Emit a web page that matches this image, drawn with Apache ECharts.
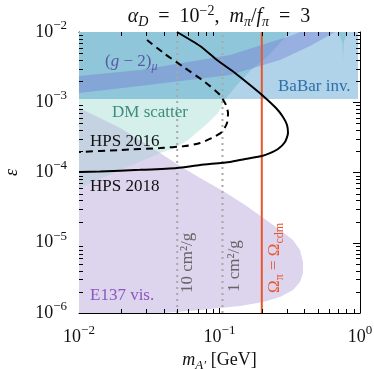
<!DOCTYPE html>
<html>
<head>
<meta charset="utf-8">
<script src="https://cdn.jsdelivr.net/npm/echarts@6/dist/echarts.min.js"></script>
<style>
  html, body { margin: 0; padding: 0; background: #fff; }
  #chart { width: 374px; height: 369px; }
</style>
</head>
<body>
<div id="chart"></div>
<script>
// Axis ranges (dark-photon mass in GeV, kinetic mixing epsilon)
const massRange = [0.01, 1];
const epsRange = [1e-6, 1e-2];

// Minor tick positions on the log axes
const xMinorTicks = [0.02, 0.03, 0.04, 0.05, 0.06, 0.07, 0.08, 0.09,
                     0.2, 0.3, 0.4, 0.5, 0.6, 0.7, 0.8, 0.9];
const yMinorTicks = [2e-6, 3e-6, 4e-6, 5e-6, 6e-6, 7e-6, 8e-6, 9e-6,
                     2e-5, 3e-5, 4e-5, 5e-5, 6e-5, 7e-5, 8e-5, 9e-5,
                     2e-4, 3e-4, 4e-4, 5e-4, 6e-4, 7e-4, 8e-4, 9e-4,
                     2e-3, 3e-3, 4e-3, 5e-3, 6e-3, 7e-3, 8e-3, 9e-3];

// Excluded regions, [m_A' (GeV), epsilon]
const babarInvisible = [[0.01, 1e-2], [0.968, 1e-2], [0.968, 1.11e-3], [0.01, 1.11e-3]];
const dmScatterHigh = [[0.01, 1e-2], [0.318, 1e-2], [0.221, 4.55e-3], [0.165, 2.79e-3],
                       [0.133, 1.76e-3], [0.11, 1.11e-3], [0.01, 1.11e-3]];
const dmScatterSpike = [[0.70, 1e-2], [0.81, 1e-2], [0.765, 7.0e-3], [0.757, 3.74e-3], [0.75, 7.0e-3]];
const dmScatterLow = [[0.01, 1.11e-3], [0.11, 1.11e-3], [0.0976, 7.03e-4], [0.0828, 5.07e-4],
                      [0.0597, 2.90e-4], [0.0482, 2.23e-4], [0.0377, 1.89e-4], [0.01, 6.02e-5]];
const e137Visible = [[0.01, 8.28e-4], [0.0196, 4.30e-4], [0.0377, 1.89e-4], [0.0524, 1.24e-4],
                     [0.0727, 8.35e-5], [0.1059, 5.45e-5], [0.152, 3.45e-5], [0.2007, 2.32e-5],
                     [0.2696, 1.52e-5], [0.3336, 1.09e-5], [0.374, 7.88e-6], [0.393, 5.32e-6],
                     [0.393, 3.71e-6], [0.374, 2.76e-6], [0.3336, 2.13e-6], [0.2696, 1.69e-6],
                     [0.204, 1.43e-6], [0.1399, 1.26e-6], [0.1008, 1.18e-6], [0.0727, 1.10e-6],
                     [0.0498, 1.03e-6], [0.0377, 1e-6], [0.01, 1e-6]];
const e137DmOverlap = [[0.01, 8.28e-4], [0.0196, 4.30e-4], [0.0377, 1.89e-4], [0.01, 6.02e-5]];
const gMinus2Band = [[0.01, 2.36e-3], [0.0272, 2.88e-3], [0.1188, 4.71e-3], [0.3176, 8.77e-3],
                     [0.374, 1e-2], [0.664, 1e-2], [0.4407, 6.32e-3], [0.2696, 3.99e-3],
                     [0.1188, 2.44e-3], [0.0272, 1.70e-3], [0.01, 1.35e-3]];

// Projected HPS reach
const hps2018 = [[0.0498, 1e-2], [0.0727, 6.32e-3], [0.096, 3.99e-3], [0.129, 2.61e-3],
                 [0.1649, 1.76e-3], [0.2007, 1.27e-3], [0.2524, 8.28e-4], [0.2831, 6.17e-4],
                 [0.3023, 4.74e-4], [0.3073, 3.65e-4], [0.2925, 2.72e-4], [0.2609, 2.16e-4],
                 [0.2287, 1.89e-4], [0.2007, 1.72e-4], [0.1519, 1.56e-4], [0.1188, 1.41e-4],
                 [0.0727, 1.28e-4], [0.0498, 1.16e-4], [0.0272, 1.09e-4], [0.0141, 1.03e-4],
                 [0.01, 1.016e-4]];
const hps2016 = [[0.0305, 7.69e-3], [0.0409, 4.86e-3], [0.0568, 3.07e-3], [0.0789, 1.94e-3],
                 [0.1008, 1.27e-3], [0.1112, 9.14e-4], [0.115, 7.03e-4], [0.1131, 5.07e-4],
                 [0.1042, 3.77e-4], [0.0884, 3.10e-4], [0.0727, 2.63e-4], [0.0568, 2.38e-4],
                 [0.0377, 2.23e-4], [0.0196, 2.09e-4], [0.01, 1.96e-4]];

// Self-interaction cross sections (cm^2/g) and relic-abundance mass
const sigma10Mass = 0.05;
const sigma1Mass = 0.105;
const relicMass = 0.2;

const SERIF = "'Liberation Serif','DejaVu Serif',serif";

function region(name, pts, fill, z) {
  return {
    type: 'custom', name: name, data: pts, z: z, silent: true,
    renderItem: function (params, api) {
      if (params.dataIndex !== 0) return;
      return {
        type: 'polygon',
        shape: { points: pts.map(function (p) { return api.coord(p); }) },
        style: { fill: fill }
      };
    }
  };
}

function vline(mass, color, type, width, z) {
  return {
    type: 'line', data: [[mass, epsRange[0]], [mass, epsRange[1]]], z: z,
    showSymbol: false, silent: true,
    lineStyle: { color: color, type: type, width: width }
  };
}

function minorTicks(values, horizontal) {
  return {
    type: 'custom', z: 20, silent: true,
    data: values.map(function (v) { return horizontal ? [v, epsRange[0]] : [massRange[0], v]; }),
    renderItem: function (params, api) {
      const cs = params.coordSys;
      const st = { stroke: '#000', lineWidth: 1 };
      if (horizontal) {
        const x = Math.round(api.coord([api.value(0), epsRange[0]])[0]) + 0.5;
        const b = cs.y + cs.height, t = cs.y;
        return { type: 'group', children: [
          { type: 'line', shape: { x1: x, y1: b, x2: x, y2: b - 4 }, style: st },
          { type: 'line', shape: { x1: x, y1: t, x2: x, y2: t + 4 }, style: st }
        ] };
      }
      const y = Math.round(api.coord([massRange[0], api.value(1)])[1]) + 0.5;
      const l = cs.x, r = cs.x + cs.width;
      return { type: 'group', children: [
        { type: 'line', shape: { x1: l, y1: y, x2: l + 4, y2: y }, style: st },
        { type: 'line', shape: { x1: r, y1: y, x2: r - 4, y2: y }, style: st }
      ] };
    }
  };
}

const tickRich = {
  b: { fontFamily: SERIF, fontSize: 18, lineHeight: 26, color: '#111' },
  s: { fontFamily: SERIF, fontSize: 13, lineHeight: 13, verticalAlign: 'top', color: '#111' }
};
function powerLabel(v) {
  const e = Math.round(Math.log10(v));
  return '{b|10}{s|' + (e < 0 ? '\u2212' + (-e) : e) + '}';
}

function logAxis(range, pos, labels, margin) {
  return {
    type: 'log', logBase: 10, min: range[0], max: range[1], position: pos,
    axisLine: { show: true, lineStyle: { color: '#000', width: 1 } },
    axisTick: { show: true, inside: true, length: 7, lineStyle: { color: '#000', width: 1 } },
    splitLine: { show: false },
    axisLabel: labels ? { show: true, formatter: powerLabel, rich: tickRich, margin: margin,
                          showMinLabel: true, showMaxLabel: true } : { show: false }
  };
}

function mathRich(color, size, italicSub) {
  return {
    n: { fontFamily: SERIF, fontSize: size, lineHeight: size + 5, color: color, fill: color },
    i: { fontFamily: SERIF, fontSize: size, lineHeight: size + 5, fontStyle: 'italic', color: color, fill: color },
    sub: { fontFamily: SERIF, fontSize: Math.round(size * 0.7), lineHeight: Math.round(size * 0.7),
           fontStyle: italicSub ? 'italic' : 'normal', verticalAlign: 'bottom', color: color, fill: color },
    sup: { fontFamily: SERIF, fontSize: Math.round(size * 0.7), lineHeight: Math.round(size * 0.7),
           verticalAlign: 'top', color: color, fill: color }
  };
}

const xAxisBottom = logAxis(massRange, 'bottom', true, 11);
xAxisBottom.name = '{i|m}{sub|A\u2032}{n| [GeV]}';
xAxisBottom.nameLocation = 'middle';
xAxisBottom.nameGap = 36;
xAxisBottom.nameMoveOverlap = false;
xAxisBottom.nameTextStyle = { rich: mathRich('#111', 18, true) };

const yAxisLeft = logAxis(epsRange, 'left', true, 12);
yAxisLeft.name = '{i|\u03b5}';
yAxisLeft.nameLocation = 'middle';
yAxisLeft.nameRotate = 90;
yAxisLeft.nameGap = 55;
yAxisLeft.nameMoveOverlap = false;
yAxisLeft.nameTextStyle = { rich: mathRich('#111', 18, true) };

function label(text, x, y, color, rot) {
  return { type: 'text', x: x, y: y, rotation: rot || 0, z: 30,
    style: { text: text, fill: color, font: '17px ' + SERIF, align: 'left', verticalAlign: 'middle' } };
}
function richLabel(text, x, y, color, size, align, rot, italicSub) {
  return { type: 'text', x: x, y: y, rotation: rot || 0, z: 30,
    style: { text: text, rich: mathRich(color, size, italicSub), fill: color,
             align: align, verticalAlign: 'middle' } };
}

const chart = echarts.init(document.getElementById('chart'), null, { renderer: 'canvas' });
chart.setOption({
  animation: false,
  backgroundColor: '#fff',
  grid: { left: 79, right: 14, top: 32, bottom: 56, outerBoundsMode: 'none', containLabel: false },
  xAxis: [xAxisBottom, logAxis(massRange, 'top', false, 0)],
  yAxis: [yAxisLeft, logAxis(epsRange, 'right', false, 0)],
  series: [
    region('BaBar inv.', babarInvisible, '#b0d3ea', 1),
    region('DM scatter (BaBar)', dmScatterHigh, '#8fc6da', 2),
    region('DM scatter resonance', dmScatterSpike, '#8fc6da', 2),
    region('DM scatter', dmScatterLow, '#d5efeb', 2),
    region('E137 vis.', e137Visible, '#ddd4ee', 3),
    region('E137 + DM scatter', e137DmOverlap, '#c4d2e2', 4),
    region('(g-2)', gMinus2Band, 'rgba(110,110,210,0.36)', 5),
    vline(sigma10Mass, '#a8a8a8', [2, 4], 2, 6),
    vline(sigma1Mass, '#a8a8a8', [2, 4], 2, 6),
    vline(relicMass, '#e8572a', 'solid', 2, 7),
    { type: 'line', data: hps2016, z: 8, showSymbol: false, silent: true, smooth: 0.2,
      lineStyle: { color: '#000', width: 2, type: [7, 5] } },
    { type: 'line', data: hps2018, z: 8, showSymbol: false, silent: true, smooth: 0.2,
      lineStyle: { color: '#000', width: 2 } },
    minorTicks(xMinorTicks, true),
    minorTicks(yMinorTicks, false)
  ],
  graphic: [
    richLabel('{i|\u03b1}{sub|D}{n|\u2002=\u200210}{sup|\u22122}{n|,  }{i|m}{sub|\u03c0}{n|/}{i|f}{sub|\u03c0}{n|\u2002=\u20023}',
              219, 17, '#111', 20, 'center', 0, true),
    richLabel('{n|(}{i|g}{n| \u2212 2)}{sub|\u03bc}', 105, 62, '#5b58a8', 17, 'left', 0, true),
    label('BaBar inv.', 278, 87, '#2e6fa6'),
    label('DM scatter', 112, 113, '#3e8d7c'),
    label('HPS 2016', 90, 142, '#111'),
    label('HPS 2018', 90, 187, '#111'),
    label('E137 vis.', 90, 296, '#8b56c2'),
    label('10 cm\u00b2/g', 188, 293, '#666', Math.PI / 2),
    label('1 cm\u00b2/g', 235, 292, '#666', Math.PI / 2),
    richLabel('{n|\u03a9}{sub|\u03c0}{n| = \u03a9}{sub|cdm}', 275, 293, '#e8572a', 17, 'left', Math.PI / 2, false)
  ]
});
</script>
</body>
</html>
